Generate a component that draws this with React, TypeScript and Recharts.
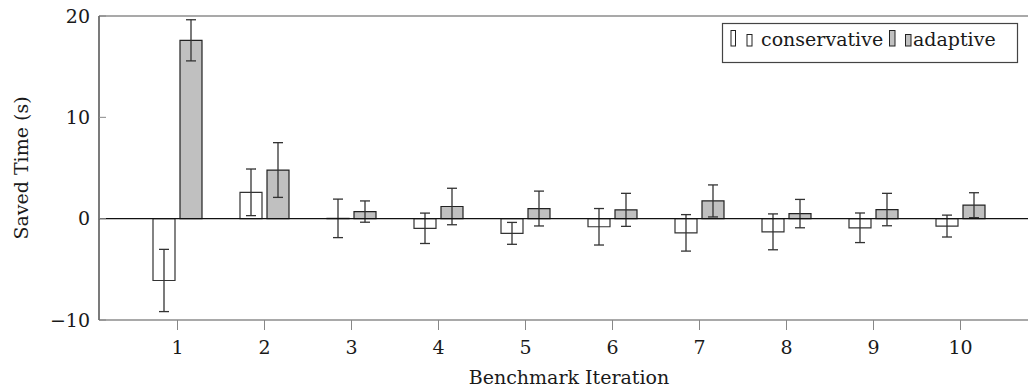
import { BarChart, Bar, XAxis, YAxis, ErrorBar, ReferenceLine } from 'recharts';

const iterations = ['1', '2', '3', '4', '5', '6', '7', '8', '9', '10'];
const conservative = [-6.1, 2.6, 0.03, -0.95, -1.45, -0.8, -1.4, -1.3, -0.9, -0.73];
const conservativeErr = [3.07, 2.3, 1.9, 1.5, 1.08, 1.8, 1.8, 1.77, 1.46, 1.08];
const adaptive = [17.6, 4.8, 0.7, 1.2, 1.0, 0.87, 1.75, 0.5, 0.9, 1.33];
const adaptiveErr = [2.03, 2.7, 1.05, 1.8, 1.72, 1.63, 1.58, 1.4, 1.6, 1.23];
const yTicks = [-10, 0, 10, 20];

const data = iterations.map((it, i) => ({
    it,
    conservative: conservative[i],
    conservativeErr: conservativeErr[i],
    adaptive: adaptive[i],
    adaptiveErr: adaptiveErr[i],
}));

const FONT = '"DejaVu Serif", serif';
const TEXT = '#1a1a1a';

const fmt = (v: number) => (v < 0 ? '\u2212' + Math.abs(v) : String(v));

const YTick = (props: any) => {
    const { x, y, payload } = props;
    return (
        <g>
            <line x1={x + 9} x2={x + 16} y1={y} y2={y} stroke="#888" strokeWidth={1} />
            <text x={x} y={y} dy={6.8} textAnchor="end" fontFamily={FONT} fontSize={19} fill={TEXT}>
                {fmt(payload.value)}
            </text>
        </g>
    );
};

const XTick = (props: any) => {
    const { x, y, payload } = props;
    return (
        <text x={x} y={y} dy={13.7} textAnchor="middle" fontFamily={FONT} fontSize={19} fill={TEXT}>
            {payload.value}
        </text>
    );
};

function LegendBox() {
    return (
        <svg width={300} height={42} style={{ position: 'absolute', left: 721, top: 22 }}>
            <rect x={1.5} y={1.5} width={295} height={39} fill="#fff" stroke="#444" strokeWidth={1.2} />
            <rect x={10} y={8.5} width={4.5} height={15.5} fill="#fff" stroke="#222" strokeWidth={1} />
            <rect x={26} y={12.5} width={5} height={11.5} fill="#fff" stroke="#222" strokeWidth={1} />
            <text x={40} y={24} fontFamily={FONT} fontSize={19} fill={TEXT}>conservative</text>
            <rect x={168.5} y={8.5} width={5.5} height={15.5} fill="#c0c0c0" stroke="#222" strokeWidth={1} />
            <rect x={184.5} y={12.5} width={5.5} height={11.5} fill="#c0c0c0" stroke="#222" strokeWidth={1} />
            <text x={192} y={24} fontFamily={FONT} fontSize={19} fill={TEXT}>adaptive</text>
        </svg>
    );
}

export default function App() {
    return (
        <div style={{ position: 'absolute', left: 0, top: 0, width: 1028, height: 391, overflow: 'hidden', background: '#fff' }}>
            <BarChart
                width={1045}
                height={391}
                data={data}
                margin={{ top: 16, right: 6, bottom: 0, left: 0 }}
                barSize={22}
                barGap={5}
            >
                <XAxis
                    dataKey="it"
                    height={71}
                    padding={{ left: 35, right: 35 }}
                    tickSize={10}
                    tickMargin={10}
                    tick={<XTick />}
                    tickLine={{ stroke: '#888' }}
                    axisLine={{ stroke: '#555', strokeWidth: 1.2 }}
                    label={{
                        value: 'Benchmark Iteration',
                        position: 'insideBottom',
                        offset: 7,
                        fontFamily: FONT,
                        fontSize: 19,
                        fill: TEXT,
                    }}
                />
                <YAxis
                    width={99}
                    domain={[-10, 20]}
                    ticks={yTicks}
                    interval={0}
                    tickSize={0}
                    tickMargin={9}
                    tick={<YTick />}
                    axisLine={{ stroke: '#222', strokeWidth: 1.2 }}
                    label={{
                        value: 'Saved Time (s)',
                        angle: -90,
                        position: 'insideLeft',
                        offset: 21,
                        fontFamily: FONT,
                        fontSize: 19,
                        fill: TEXT,
                        style: { textAnchor: 'middle' },
                    }}
                />
                <ReferenceLine y={20} stroke="#555" strokeWidth={1.2} />
                <Bar dataKey="conservative" fill="#ffffff" stroke="#333" strokeWidth={1.2} isAnimationActive={false}>
                    <ErrorBar dataKey="conservativeErr" width={5} stroke="#333" strokeWidth={1.3} />
                </Bar>
                <Bar dataKey="adaptive" fill="#c0c0c0" stroke="#222" strokeWidth={1.2} isAnimationActive={false}>
                    <ErrorBar dataKey="adaptiveErr" width={5} stroke="#333" strokeWidth={1.3} />
                </Bar>
                <ReferenceLine y={0} stroke="#111" strokeWidth={1.3} />
            </BarChart>
            <LegendBox />
        </div>
    );
}
